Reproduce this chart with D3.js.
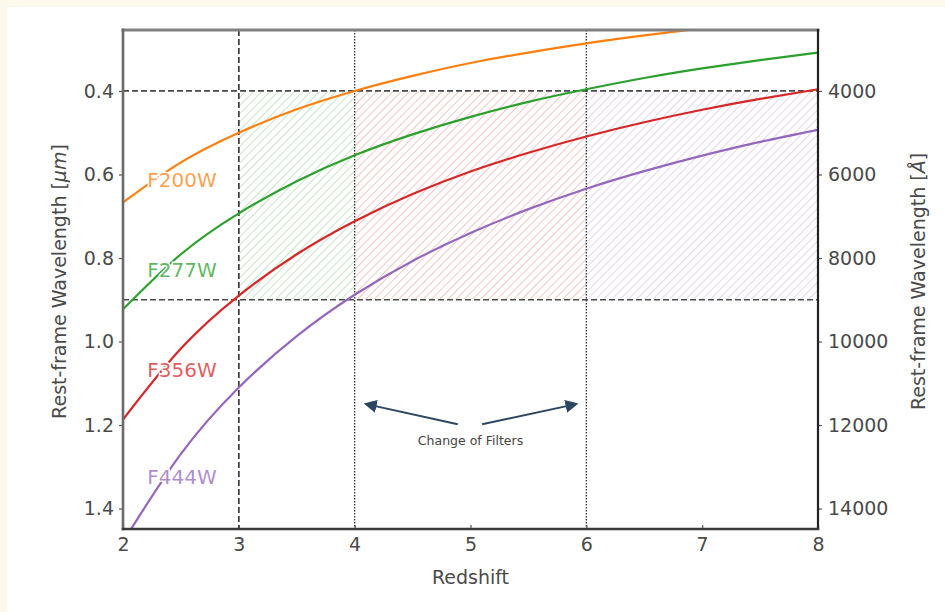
<!DOCTYPE html>
<html>
<head>
<meta charset="utf-8">
<script src="https://cdn.jsdelivr.net/npm/d3@7"></script>
<style>
  body { margin: 0; background: #fdf8ec; }
  svg { display: block; }
</style>
</head>
<body>
<svg id="chart" width="945" height="612"></svg>
<script>
// values
const redshift = [2, 2.5, 3, 3.5, 4, 4.5, 5, 5.5, 6, 6.5, 7, 7.5, 8];
const f200w = [0.667, 0.571, 0.500, 0.444, 0.400, 0.364, 0.333, 0.308, 0.286, 0.267, 0.250, 0.235, 0.222];
const f277w = [0.923, 0.791, 0.693, 0.616, 0.554, 0.504, 0.462, 0.426, 0.396, 0.369, 0.346, 0.326, 0.308];
const f356w = [1.187, 1.017, 0.890, 0.791, 0.712, 0.647, 0.593, 0.548, 0.509, 0.475, 0.445, 0.419, 0.396];
const f444w = [1.480, 1.269, 1.110, 0.987, 0.888, 0.807, 0.740, 0.683, 0.634, 0.592, 0.555, 0.522, 0.493];

const filterNames = ['F200W', 'F277W', 'F356W', 'F444W'];
const filterColors = ['#ff7f0e', '#2ca02c', '#d62728', '#9467bd'];
const filterValues = [f200w, f277w, f356w, f444w];
const labelWavelength = [0.613, 0.829, 1.068, 1.325];

const xTicks = [2, 3, 4, 5, 6, 7, 8];
const yTicksMicron = [0.4, 0.6, 0.8, 1.0, 1.2, 1.4];
const yTicksAngstrom = [4000, 6000, 8000, 10000, 12000, 14000];

// hatched windows: redshift range + colour
const bandStart = [3, 4, 6];
const bandEnd = [4, 6, 8];
const bandColors = ['#2ca02c', '#d62728', '#9467bd'];
const bandRange = [0.4, 0.9];

const dashedZ = [3];
const dottedZ = [4, 6];

const width = 945, height = 612;
const plot = { left: 123, right: 818, top: 30, bottom: 529 };
const font = '"DejaVu Sans", sans-serif';

const svg = d3.select('#chart');

svg.append('rect')
  .attr('x', 7).attr('y', 7)
  .attr('width', width - 7).attr('height', height - 7)
  .attr('fill', '#fff');

const x = d3.scaleLinear().domain([2, 8]).range([plot.left, plot.right]);
const y = d3.scaleLinear().domain([0.254, 1.449]).range([plot.top, plot.bottom]);
const yA = d3.scaleLinear().domain([2540, 14490]).range([plot.top, plot.bottom]);

const defs = svg.append('defs');
defs.append('clipPath').attr('id', 'plot-clip')
  .append('rect')
  .attr('x', plot.left).attr('y', plot.top)
  .attr('width', plot.right - plot.left).attr('height', plot.bottom - plot.top);

bandColors.forEach((c, i) => {
  const p = defs.append('pattern')
    .attr('id', 'hatch' + i)
    .attr('patternUnits', 'userSpaceOnUse')
    .attr('width', 5.8).attr('height', 5.8)
    .attr('patternTransform', 'rotate(45)');
  p.append('line')
    .attr('x1', 0).attr('y1', 0).attr('x2', 0).attr('y2', 5.8)
    .attr('stroke', c).attr('stroke-width', 1.2).attr('stroke-opacity', 0.45);
});

const g = svg.append('g').attr('clip-path', 'url(#plot-clip)');

// hatched bands
g.selectAll('rect.band')
  .data(bandColors)
  .join('rect')
  .attr('class', 'band')
  .attr('x', (d, i) => x(bandStart[i]))
  .attr('width', (d, i) => x(bandEnd[i]) - x(bandStart[i]))
  .attr('y', y(bandRange[0]))
  .attr('height', y(bandRange[1]) - y(bandRange[0]))
  .attr('fill', (d, i) => `url(#hatch${i})`);

// reference lines
g.selectAll('line.h')
  .data(bandRange)
  .join('line')
  .attr('x1', plot.left).attr('x2', plot.right)
  .attr('y1', d => y(d)).attr('y2', d => y(d))
  .attr('stroke', '#4a4a4a').attr('stroke-width', 1.7)
  .attr('stroke-dasharray', '6,3');

g.selectAll('line.vd')
  .data(dashedZ)
  .join('line')
  .attr('x1', d => x(d)).attr('x2', d => x(d))
  .attr('y1', plot.top).attr('y2', plot.bottom)
  .attr('stroke', '#3a3a3a').attr('stroke-width', 1.7)
  .attr('stroke-dasharray', '6,3');

g.selectAll('line.vt')
  .data(dottedZ)
  .join('line')
  .attr('x1', d => x(d)).attr('x2', d => x(d))
  .attr('y1', plot.top).attr('y2', plot.bottom)
  .attr('stroke', '#333').attr('stroke-width', 1.3)
  .attr('stroke-dasharray', '1.5,1.5');

// curves
const line = d3.line()
  .x((d, i) => x(redshift[i]))
  .y(d => y(d))
  .curve(d3.curveNatural);

g.selectAll('path.curve')
  .data(filterValues)
  .join('path')
  .attr('class', 'curve')
  .attr('d', line)
  .attr('fill', 'none')
  .attr('stroke', (d, i) => filterColors[i])
  .attr('stroke-width', 2.2);

// curve labels
svg.selectAll('text.flabel')
  .data(filterNames)
  .join('text')
  .attr('x', x(2.21))
  .attr('y', (d, i) => y(labelWavelength[i]))
  .attr('dy', '0.36em')
  .attr('fill', (d, i) => filterColors[i])
  .attr('fill-opacity', 0.75)
  .attr('stroke', '#fff').attr('stroke-width', 3)
  .attr('paint-order', 'stroke')
  .style('font-family', font)
  .style('font-size', '20px')
  .text(d => d);

// annotation arrows
const arrowColor = '#2b4660';
defs.append('marker')
  .attr('id', 'arrowhead')
  .attr('viewBox', '0 -5 10 10')
  .attr('refX', 8).attr('refY', 0)
  .attr('orient', 'auto')
  .attr('markerUnits', 'userSpaceOnUse')
  .attr('markerWidth', 13).attr('markerHeight', 13)
  .append('path')
  .attr('d', 'M0,-5 L10,0 L0,5 Z')
  .attr('fill', arrowColor);

const arrows = [
  { from: [4.89, 1.198], to: [4.10, 1.150] },
  { from: [5.10, 1.198], to: [5.91, 1.150] }
];
svg.selectAll('line.arrow')
  .data(arrows)
  .join('line')
  .attr('x1', d => x(d.from[0])).attr('y1', d => y(d.from[1]))
  .attr('x2', d => x(d.to[0])).attr('y2', d => y(d.to[1]))
  .attr('stroke', arrowColor).attr('stroke-width', 2)
  .attr('marker-end', 'url(#arrowhead)');

svg.append('text')
  .attr('x', x(5.0)).attr('y', y(1.248))
  .attr('text-anchor', 'middle')
  .attr('fill', '#444')
  .style('font-family', font)
  .style('font-size', '12.5px')
  .text('Change of Filters');

// axes
const axisBottom = svg.append('g')
  .attr('transform', `translate(0,${plot.bottom})`)
  .call(d3.axisBottom(x).tickValues(xTicks).tickSize(-4).tickPadding(9).tickFormat(d3.format('d')));
const axisLeft = svg.append('g')
  .attr('transform', `translate(${plot.left},0)`)
  .call(d3.axisLeft(y).tickValues(yTicksMicron).tickSize(4).tickPadding(5).tickFormat(d3.format('.1f')));
const axisRight = svg.append('g')
  .attr('transform', `translate(${plot.right},0)`)
  .call(d3.axisRight(yA).tickValues(yTicksAngstrom).tickSize(4).tickPadding(6).tickFormat(d3.format('d')));

[axisBottom, axisLeft, axisRight].forEach(a => {
  a.select('.domain').remove();
  a.selectAll('.tick line').attr('stroke', '#555').attr('stroke-width', 1.2);
  a.selectAll('.tick text')
    .attr('fill', '#4a4a4a')
    .style('font-family', font)
    .style('font-size', '19px');
});

// spines
const spines = [
  { x1: plot.left, y1: plot.top, x2: plot.right, y2: plot.top, c: '#808080', w: 3 },
  { x1: plot.left, y1: plot.top, x2: plot.left, y2: plot.bottom, c: '#6a6a6a', w: 2.6 },
  { x1: plot.right, y1: plot.top, x2: plot.right, y2: plot.bottom, c: '#222', w: 2.2 },
  { x1: plot.left, y1: plot.bottom, x2: plot.right, y2: plot.bottom, c: '#3a3a3a', w: 2.6 }
];
svg.selectAll('line.spine')
  .data(spines)
  .join('line')
  .attr('x1', d => d.x1).attr('y1', d => d.y1)
  .attr('x2', d => d.x2).attr('y2', d => d.y2)
  .attr('stroke', d => d.c).attr('stroke-width', d => d.w)
  .attr('stroke-linecap', 'square');

// axis titles
svg.append('text')
  .attr('transform', `translate(${x(5)},584)`)
  .attr('text-anchor', 'middle')
  .attr('fill', '#4a4a4a')
  .style('font-family', font).style('font-size', '19px')
  .text('Redshift');

svg.append('text')
  .attr('transform', `translate(66,${(plot.top + plot.bottom) / 2 + 2}) rotate(-90)`)
  .attr('text-anchor', 'middle')
  .attr('fill', '#4a4a4a')
  .style('font-family', font).style('font-size', '19px')
  .text('Rest-frame Wavelength [')
  .append('tspan').style('font-style', 'italic').text('μm')
  .select(function () { return this.parentNode; })
  .append('tspan').text(']');

svg.append('text')
  .attr('transform', `translate(925,${(plot.top + plot.bottom) / 2 + 2}) rotate(-90)`)
  .attr('text-anchor', 'middle')
  .attr('fill', '#4a4a4a')
  .style('font-family', font).style('font-size', '19px')
  .text('Rest-frame Wavelength [')
  .append('tspan').style('font-style', 'italic').text('Å')
  .select(function () { return this.parentNode; })
  .append('tspan').text(']');
</script>
</body>
</html>
